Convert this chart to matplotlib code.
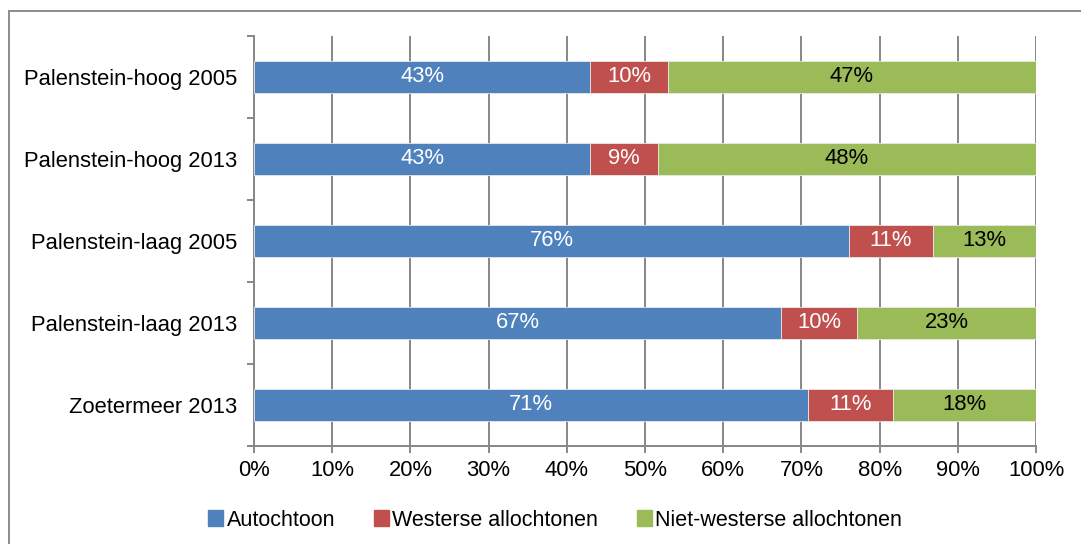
import numpy as np
import matplotlib
matplotlib.use("Agg")
import matplotlib.pyplot as plt
from matplotlib.lines import Line2D

plt.rcParams['font.family'] = ['Liberation Sans', 'DejaVu Sans']

categories = ['Palenstein-hoog 2005', 'Palenstein-hoog 2013', 'Palenstein-laag 2005',
              'Palenstein-laag 2013', 'Zoetermeer 2013']
series_names = ['Autochtoon', 'Westerse allochtonen', 'Niet-westerse allochtonen']
autochtoon = [43.0, 43.0, 76.1, 67.4, 70.8]
westers = [9.9, 8.6, 10.7, 9.7, 10.9]
niet_westers = [47.1, 48.4, 13.2, 22.9, 18.3]
colors = ['#4F81BD', '#C0504D', '#9BBB59']
label_colors = ['white', 'white', 'black']
grid_col = '#878787'
fs = 15.8

fig = plt.figure(figsize=(10.81, 5.44), dpi=100)
# outer chart frame (only top/left visible in the crop)
fig.add_artist(Line2D([8.5 / 1081, 8.5 / 1081], [0, 1 - 10.5 / 544], transform=fig.transFigure,
                      color='#8c8c8c', lw=1.4))
fig.add_artist(Line2D([8.5 / 1081, 1], [1 - 10.5 / 544, 1 - 10.5 / 544], transform=fig.transFigure,
                      color='#8c8c8c', lw=1.4))

ax = fig.add_axes([254 / 1081, 98 / 544, 782 / 1081, 410 / 544])

y = np.arange(len(categories))
left = np.zeros(len(categories))
for vals, col, tcol in zip([autochtoon, westers, niet_westers], colors, label_colors):
    vals = np.array(vals)
    ax.barh(y, vals, left=left, height=0.4, color=col, edgecolor='#e8e8e8', linewidth=0.6, zorder=3)
    for yi, l, v in zip(y, left, vals):
        ax.text(l + v / 2, yi, f"{round(v)}%", ha='center', va='center', color=tcol,
                fontsize=fs, zorder=4)
    left += vals

ax.set_xlim(0, 100)
ax.set_ylim(len(categories) - 0.5, -0.5)
ax.set_xticks(np.arange(0, 101, 10))
ax.set_xticklabels([f"{t}%" for t in range(0, 101, 10)], fontsize=fs)
ax.xaxis.grid(True, color=grid_col, lw=1.4, zorder=0)

ax.set_yticks(np.arange(-0.5, len(categories), 1))
ax.set_yticklabels([])
ax.set_yticks(y, minor=True)
ax.set_yticklabels(categories, minor=True, fontsize=fs)
ax.tick_params(axis='y', which='major', length=5, width=1.4, color=grid_col, direction='out')
ax.tick_params(axis='y', which='minor', length=0, pad=12)
ax.tick_params(axis='x', length=5, width=1.4, color=grid_col, direction='out', pad=5)

for s in ['top', 'right']:
    ax.spines[s].set_visible(False)
for s in ['left', 'bottom']:
    ax.spines[s].set_color(grid_col)
    ax.spines[s].set_linewidth(1.4)

handles = [plt.Rectangle((0, 0), 1, 1, color=c) for c in colors]
fig.legend(handles, series_names, loc='center', bbox_to_anchor=(555 / 1081, 1 - 520 / 544),
           ncol=3, frameon=False, fontsize=15.5, handlelength=0.7, handleheight=0.7,
           handletextpad=0.15, columnspacing=1.8)

fig.savefig('out.png', dpi=100)
